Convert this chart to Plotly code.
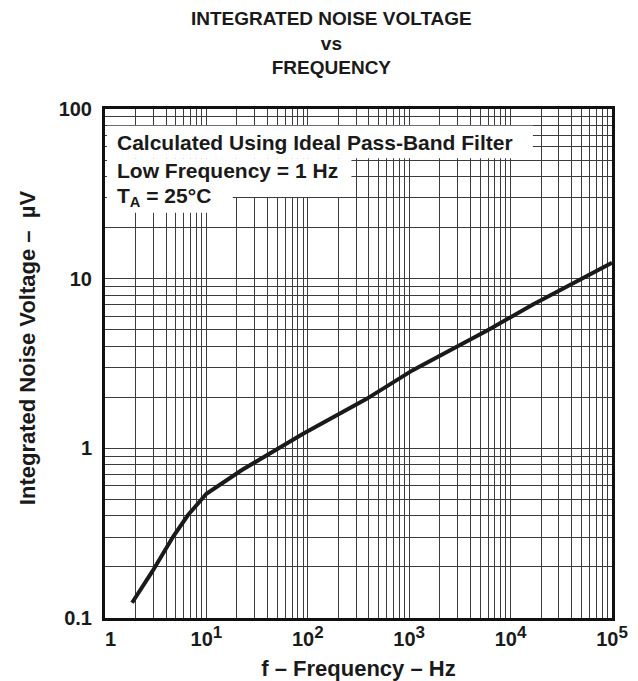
import plotly.graph_objects as go

# integrated noise curve
freq_hz = [1.85, 2.96, 4.67, 6.56, 10, 22, 89, 377, 1085, 6190, 16600, 100000]
noise_uv = [0.123, 0.19, 0.30, 0.403, 0.54, 0.74, 1.216, 1.95, 2.89, 5.03, 7.05, 12.4]

x_decades = [1, 10, 100, 1000, 10000, 100000]
x_tick_labels = ["1", "10", "10", "10", "10", "10"]
x_tick_powers = ["", "1", "2", "3", "4", "5"]
y_decades = [0.1, 1, 10, 100]
y_tick_labels = ["0.1", "1", "10", "100"]

note_lines = ["Calculated Using Ideal Pass-Band Filter", "Low Frequency = 1 Hz", "T<sub>A</sub> = 25°C"]


def minor_vals(decades):
    # 2..9 inside every decade
    out = []
    for d in decades[:-1]:
        out += [d * m for m in range(2, 10)]
    return out


def power_label(base, p):
    if not p:
        return "\u00a0\u00a0" + base  # the "1" sits a bit right of its grid line in the original
    return base + "<sup><span style='font-size:17px'>" + p + "</span></sup>"


FONT = "Liberation Sans, Arial, sans-serif"
INK = "#1a1a1a"
GRID = "#3c3c3c"

fig = go.Figure()
fig.add_trace(go.Scatter(
    x=freq_hz, y=noise_uv, mode="lines",
    line=dict(color=INK, width=4),
    showlegend=False, hoverinfo="skip",
))

axis_common = dict(
    type="log", automargin=False,
    showline=True, mirror=True, linecolor="#111111", linewidth=3,
    showgrid=True, gridcolor=GRID, gridwidth=1.2,
    ticks="", zeroline=False,
    tickfont=dict(family=FONT, size=20, color=INK, weight="bold"),
)

fig.update_xaxes(
    **axis_common,
    range=[0, 5],
    tickvals=x_decades,
    ticktext=[power_label(b, p) for b, p in zip(x_tick_labels, x_tick_powers)],
    ticklabelstandoff=1,
    minor=dict(tickvals=minor_vals(x_decades), showgrid=True, gridcolor=GRID, gridwidth=1.2, ticks=""),
    title=dict(text="<b>f – Frequency – Hz</b>", font=dict(family=FONT, size=22, color=INK), standoff=13),
)
fig.update_yaxes(
    **axis_common,
    range=[-1, 2],
    tickvals=y_decades, ticktext=y_tick_labels,
    ticklabelstandoff=6,
    minor=dict(tickvals=minor_vals(y_decades), showgrid=True, gridcolor=GRID, gridwidth=1.2, ticks=""),
)

# y title as rotated annotation so it can sit where the original has it
fig.add_annotation(text="<b>Integrated Noise Voltage –  µV</b>", textangle=-90,
                   xref="paper", yref="paper", x=-0.154, y=0.532,
                   xanchor="center", yanchor="middle", showarrow=False,
                   font=dict(family=FONT, size=22, color=INK))

# white staircase behind the note text
boxes = [(0.844, 0.903, 0.967), (0.486, 0.827, 0.903), (0.252, 0.796, 0.827)]
for x1, y0, y1 in boxes:
    fig.add_shape(type="rect", xref="paper", yref="paper",
                  x0=0.004, x1=x1, y0=y0, y1=y1,
                  fillcolor="white", line=dict(width=0), layer="above")

note_y = [0.935, 0.880, 0.828]
for txt, yy in zip(note_lines, note_y):
    fig.add_annotation(text="<b>" + txt + "</b>", xref="paper", yref="paper",
                       x=0.02, y=yy, xanchor="left", yanchor="middle",
                       showarrow=False, font=dict(family=FONT, size=21, color=INK))

# chart title
fig.add_annotation(text="<b>INTEGRATED NOISE VOLTAGE<br>vs<br>FREQUENCY</b>",
                   xref="paper", yref="paper", x=0.447, y=1.202,
                   xanchor="center", yanchor="top", showarrow=False,
                   font=dict(family=FONT, size=19, color=INK))

# page body adds an 8px offset, so the figure is 8px smaller than the window
fig.update_layout(
    width=630, height=673,
    margin=dict(l=97, r=26, t=101, b=63),
    paper_bgcolor="white", plot_bgcolor="white",
    font=dict(family=FONT, color=INK),
)

fig.write_html("out.html")
